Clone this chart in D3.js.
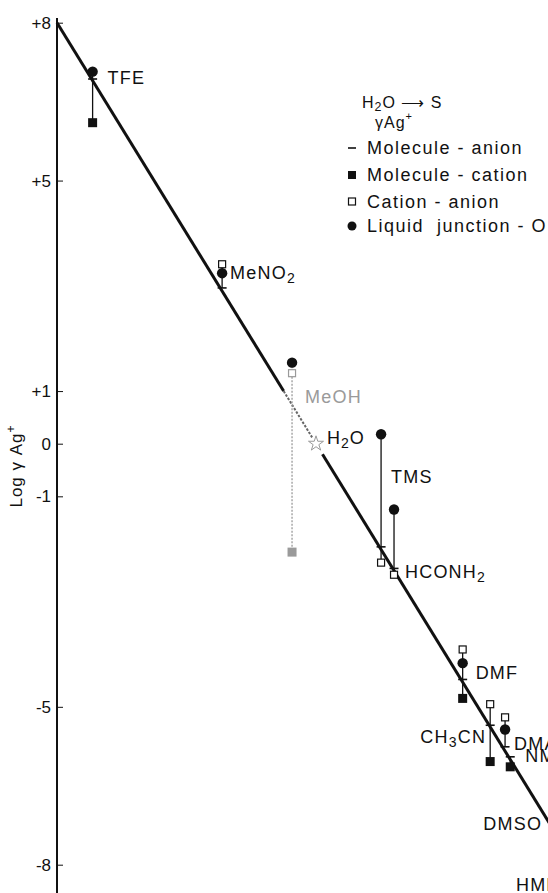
<!DOCTYPE html>
<html>
<head>
<meta charset="utf-8">
<script src="https://cdn.jsdelivr.net/npm/d3@7"></script>
<style>
    body { margin: 0; background: #fff; }
    svg { display: block; }
    text { font-family: "Liberation Sans", Arial, sans-serif; fill: #111; }
</style>
</head>
<body>
<div id="chart"></div>
<script>
// solvent names, "_" marks a subscript digit
var solvents = ["TFE", "MeNO_2", "MeOH", "TMS", "HCONH_2", "DMF", "CH_3CN", "DMA", "NMP", "DMSO", "HMPT"];
// position of each solvent along the correlation line (log units)
var xValues = [6.90, 2.90, 0.74, -2.01, -2.41, -4.53, -5.38, -5.84, -6.00, -7.30, -8.40];
// log gamma Ag+ under each extrathermodynamic assumption
var moleculeAnion  = [6.93, 2.96, null, -1.96, -2.37, -4.48, -5.35, -5.76, -5.95, null, null];
var moleculeCation = [6.10, null, -2.06, null, null, -4.84, -6.04, null, -6.14, null, null];
var cationAnion    = [null, 3.41, 1.34, -2.26, -2.49, -3.91, -4.95, -5.20, null, null, null];
var liquidJunction = [7.07, 3.24, 1.54, 0.18, -1.25, -4.17, null, -5.43, null, null, null];
// reference solvent
var water = { name: "H_2O", x: 0, y: 0 };
var yTicks = [8, 5, 1, 0, -1, -5, -8];

var width = 548, height = 893;
var ink = "#111", faded = "#9a9a9a";

// label offsets (px) from the point on the line
var labelPos = {
    "TFE": [15, -3, "start"], "MeNO_2": [8, -18, "start"], "MeOH": [13, -8, "start"],
    "TMS": [10, -72, "start"], "HCONH_2": [11, 1, "start"], "DMF": [13, -9, "start"],
    "CH_3CN": [-4, 10, "end"], "DMA": [9, -7, "start"], "NMP": [15, -3, "start"],
    "DMSO": [-69, -4, "start"], "HMPT": [-72, -1, "start"]
};

var svg = d3.select("#chart").append("svg")
    .attr("width", width).attr("height", height);

var x = d3.scaleLinear().domain([8, -8]).range([57, 575]);
var y = d3.scaleLinear().domain([8, -8]).range([22.7, 864.7]);

// writes "MeNO_2" as MeNO with a subscript 2
function chem(sel, s, size) {
    var parts = s.split(/(_\d)/);
    var shift = 0;
    parts.forEach(function(p) {
        if (!p) return;
        if (p[0] === "_") {
            shift = size * 0.3;
            sel.append("tspan").attr("dy", shift).attr("font-size", size * 0.78).text(p.slice(1));
        } else {
            sel.append("tspan").attr("dy", shift ? -shift : null).text(p);
            shift = 0;
        }
    });
}

// y axis
svg.append("line")
    .attr("x1", 57).attr("x2", 57).attr("y1", 18).attr("y2", height)
    .attr("stroke", ink).attr("stroke-width", 2);

var yAxis = d3.axisLeft(y).tickValues(yTicks).tickSize(-6).tickPadding(6)
    .tickFormat(function(d) { return d > 0 ? "+" + d : String(d); });
var gy = svg.append("g").attr("transform", "translate(57,0)").call(yAxis);
gy.select(".domain").remove();
gy.selectAll(".tick line").attr("stroke", ink).attr("stroke-width", 1);
gy.selectAll(".tick text")
    .attr("font-size", 17).attr("fill", ink)
    .style("font-family", "Liberation Sans, Arial, sans-serif");

var ylab = svg.append("text")
    .attr("transform", "translate(22,466) rotate(-90)")
    .attr("text-anchor", "middle").attr("font-size", 17).attr("letter-spacing", 1);
ylab.append("tspan").text("Log \u03b3 Ag");
ylab.append("tspan").attr("dy", -7).attr("font-size", 12).text("+");

// correlation line: solid, faint through the MeOH / H2O region, solid again
var diag = d3.line().x(function(d) { return x(d); }).y(function(d) { return y(d); });
svg.append("path").attr("d", diag([8, 1.0]))
    .attr("stroke", ink).attr("stroke-width", 3).attr("fill", "none");
svg.append("path").attr("d", diag([1.0, 0.12]))
    .attr("stroke", "#666").attr("stroke-width", 2).attr("stroke-dasharray", "2.5,1.5").attr("fill", "none");
svg.append("path").attr("d", diag([-0.2, -9.5]))
    .attr("stroke", ink).attr("stroke-width", 3).attr("fill", "none");

// one group per solvent
var rows = solvents.map(function(name, i) {
    return {
        name: name, x: xValues[i],
        ma: moleculeAnion[i], mc: moleculeCation[i],
        ca: cationAnion[i], lj: liquidJunction[i]
    };
});

var g = svg.selectAll("g.solvent").data(rows).enter().append("g")
    .attr("class", "solvent")
    .attr("transform", function(d) { return "translate(" + x(d.x) + ",0)"; });

function colorOf(d) { return d.name === "MeOH" ? faded : ink; }

// vertical connectors
g.each(function(d) {
    var vals = [d.ma, d.mc, d.ca, d.lj].filter(function(v) { return v != null; });
    if (vals.length < 2) return;
    d3.select(this).append("line")
        .attr("x1", 0).attr("x2", 0)
        .attr("y1", y(d3.max(vals))).attr("y2", y(d3.min(vals)))
        .attr("stroke", colorOf(d)).attr("stroke-width", 1.3)
        .attr("stroke-dasharray", d.name === "MeOH" ? "2,1.5" : null);
});

g.filter(function(d) { return d.ma != null; }).append("line")
    .attr("x1", -4.5).attr("x2", 4.5)
    .attr("y1", function(d) { return y(d.ma); }).attr("y2", function(d) { return y(d.ma); })
    .attr("stroke", colorOf).attr("stroke-width", 1.6);

g.filter(function(d) { return d.mc != null; }).append("rect")
    .attr("x", -4.5).attr("width", 9).attr("height", 9)
    .attr("y", function(d) { return y(d.mc) - 4.5; })
    .attr("fill", colorOf);

g.filter(function(d) { return d.ca != null; }).append("rect")
    .attr("x", -3.5).attr("width", 7).attr("height", 7)
    .attr("y", function(d) { return y(d.ca) - 3.5; })
    .attr("fill", "#fff").attr("stroke", colorOf).attr("stroke-width", 1.2);

g.filter(function(d) { return d.lj != null; }).append("circle")
    .attr("r", 5.2)
    .attr("cy", function(d) { return y(d.lj); })
    .attr("fill", ink);

// solvent labels
g.each(function(d) {
    var p = labelPos[d.name];
    var t = d3.select(this).append("text")
        .attr("x", p[0]).attr("y", y(d.x) + p[1])
        .attr("dominant-baseline", "central")
        .attr("text-anchor", p[2])
        .attr("font-size", 18).attr("letter-spacing", 1.2)
        .style("fill", colorOf(d));
    chem(t, d.name, 18);
});

// water: star on the line
var star = d3.symbol().type(d3.symbolStar).size(70);
svg.append("path").attr("d", star())
    .attr("transform", "translate(" + x(water.x) + "," + y(water.y) + ")")
    .attr("fill", "#fff").attr("stroke", faded).attr("stroke-width", 1);
var wt = svg.append("text")
    .attr("x", x(water.x) + 11).attr("y", y(water.y) - 6)
    .attr("dominant-baseline", "central").attr("font-size", 18).attr("letter-spacing", 1);
chem(wt, water.name, 18);

// legend
var lg = svg.append("g").attr("transform", "translate(352,0)");
var head = lg.append("text").attr("x", 10).attr("y", 102)
    .attr("dominant-baseline", "central").attr("font-size", 16).attr("letter-spacing", 1);
chem(head, "H_2O \u27f6 S", 16);
var head2 = lg.append("text").attr("x", 23).attr("y", 122)
    .attr("dominant-baseline", "central").attr("font-size", 16).attr("letter-spacing", 1);
head2.append("tspan").text("\u03b3Ag");
head2.append("tspan").attr("dy", -6).attr("font-size", 11).text("+");

var legendItems = ["Molecule - anion", "Molecule - cation", "Cation - anion", "Liquid  junction - O"];
var legendY = [148, 175, 201.5, 226];
legendItems.forEach(function(txt, i) {
    var yy = legendY[i];
    if (i === 0) lg.append("line").attr("x1", -4).attr("x2", 4).attr("y1", yy).attr("y2", yy)
        .attr("stroke", ink).attr("stroke-width", 1.6);
    if (i === 1) lg.append("rect").attr("x", -4).attr("y", yy - 4).attr("width", 8).attr("height", 8).attr("fill", ink);
    if (i === 2) lg.append("rect").attr("x", -3.5).attr("y", yy - 3.5).attr("width", 7).attr("height", 7)
        .attr("fill", "#fff").attr("stroke", ink).attr("stroke-width", 1.2);
    if (i === 3) lg.append("circle").attr("r", 4.5).attr("cy", yy).attr("fill", ink);
    lg.append("text").attr("x", 15).attr("y", yy)
        .attr("dominant-baseline", "central").attr("font-size", 18).attr("letter-spacing", 1.5)
        .style("white-space", "pre").text(txt);
});
</script>
</body>
</html>
